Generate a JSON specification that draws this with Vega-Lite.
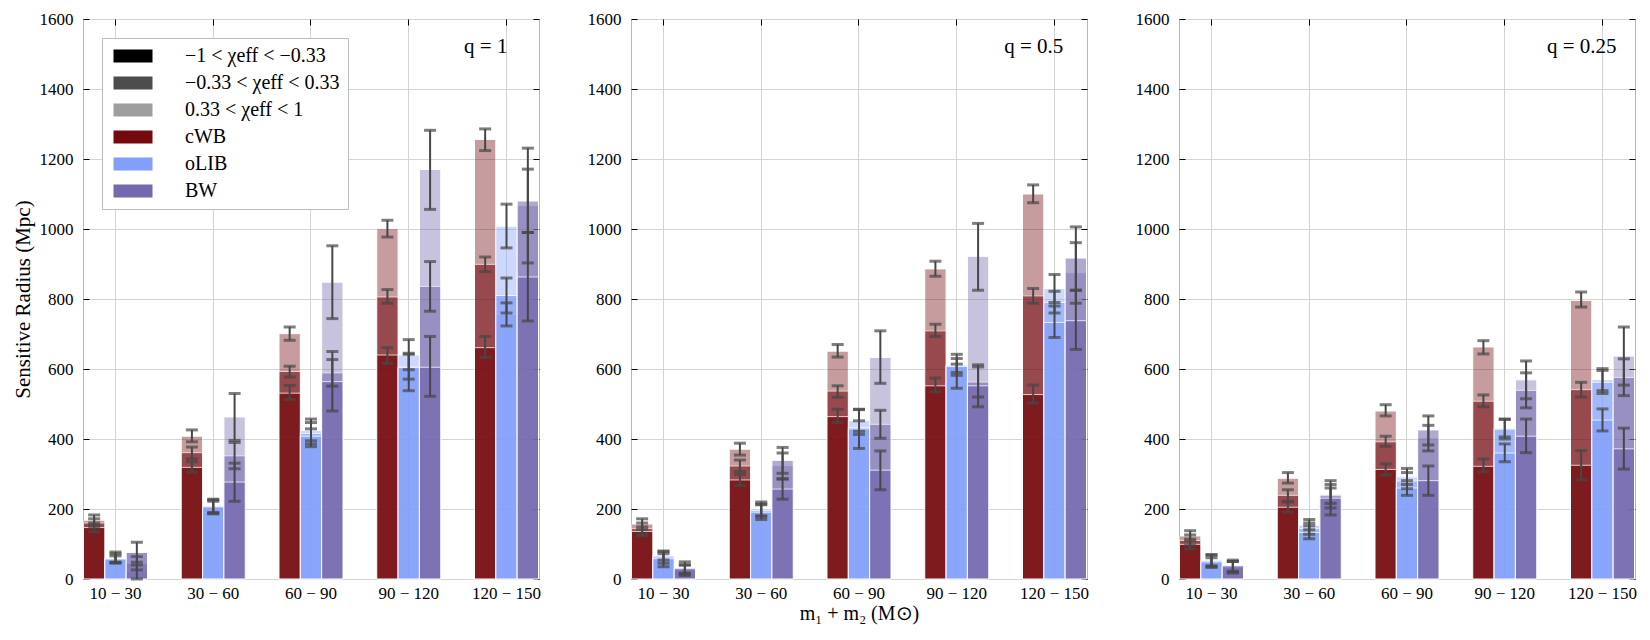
{
  "$schema": "https://vega.github.io/schema/vega-lite/v6.json",
  "background": "white",
  "padding": {"left": 11, "top": 9, "right": 8, "bottom": 5},
  "spacing": 92,
  "bounds": "flush",
  "datasets": {
    "q1": [
      {"mass": "10 − 30", "det": "cWB", "spin": "hi", "v": 168, "lo": 155, "hi": 183},
      {"mass": "10 − 30", "det": "cWB", "spin": "mid", "v": 160, "lo": 148, "hi": 172},
      {"mass": "10 − 30", "det": "cWB", "spin": "lo", "v": 147, "lo": 135, "hi": 160},
      {"mass": "10 − 30", "det": "oLIB", "spin": "hi", "v": 60, "lo": 46, "hi": 77},
      {"mass": "10 − 30", "det": "oLIB", "spin": "mid", "v": 58, "lo": 46, "hi": 72},
      {"mass": "10 − 30", "det": "oLIB", "spin": "lo", "v": 57, "lo": 48, "hi": 66},
      {"mass": "10 − 30", "det": "BW", "spin": "hi", "v": 20, "lo": 0, "hi": 40},
      {"mass": "10 − 30", "det": "BW", "spin": "mid", "v": 45, "lo": 26, "hi": 64},
      {"mass": "10 − 30", "det": "BW", "spin": "lo", "v": 76, "lo": 48, "hi": 105},
      {"mass": "30 − 60", "det": "cWB", "spin": "hi", "v": 408, "lo": 392, "hi": 426},
      {"mass": "30 − 60", "det": "cWB", "spin": "mid", "v": 361, "lo": 343, "hi": 377},
      {"mass": "30 − 60", "det": "cWB", "spin": "lo", "v": 319, "lo": 305, "hi": 335},
      {"mass": "30 − 60", "det": "oLIB", "spin": "hi", "v": 210, "lo": 190, "hi": 228},
      {"mass": "30 − 60", "det": "oLIB", "spin": "mid", "v": 208, "lo": 188, "hi": 226},
      {"mass": "30 − 60", "det": "oLIB", "spin": "lo", "v": 206, "lo": 186, "hi": 222},
      {"mass": "30 − 60", "det": "BW", "spin": "hi", "v": 463, "lo": 396, "hi": 530},
      {"mass": "30 − 60", "det": "BW", "spin": "mid", "v": 352, "lo": 315, "hi": 390},
      {"mass": "30 − 60", "det": "BW", "spin": "lo", "v": 277, "lo": 222, "hi": 331},
      {"mass": "60 − 90", "det": "cWB", "spin": "hi", "v": 701, "lo": 682, "hi": 720},
      {"mass": "60 − 90", "det": "cWB", "spin": "mid", "v": 593, "lo": 577, "hi": 608},
      {"mass": "60 − 90", "det": "cWB", "spin": "lo", "v": 531, "lo": 513, "hi": 553},
      {"mass": "60 − 90", "det": "oLIB", "spin": "hi", "v": 424, "lo": 395, "hi": 457},
      {"mass": "60 − 90", "det": "oLIB", "spin": "mid", "v": 416, "lo": 386, "hi": 447},
      {"mass": "60 − 90", "det": "oLIB", "spin": "lo", "v": 408, "lo": 378, "hi": 429},
      {"mass": "60 − 90", "det": "BW", "spin": "hi", "v": 848, "lo": 744, "hi": 952},
      {"mass": "60 − 90", "det": "BW", "spin": "mid", "v": 589, "lo": 551, "hi": 627},
      {"mass": "60 − 90", "det": "BW", "spin": "lo", "v": 564, "lo": 480, "hi": 650},
      {"mass": "90 − 120", "det": "cWB", "spin": "hi", "v": 1001, "lo": 977, "hi": 1025},
      {"mass": "90 − 120", "det": "cWB", "spin": "mid", "v": 806, "lo": 788, "hi": 827},
      {"mass": "90 − 120", "det": "cWB", "spin": "lo", "v": 640, "lo": 616, "hi": 661},
      {"mass": "90 − 120", "det": "oLIB", "spin": "hi", "v": 640, "lo": 598, "hi": 684},
      {"mass": "90 − 120", "det": "oLIB", "spin": "mid", "v": 606, "lo": 571, "hi": 642},
      {"mass": "90 − 120", "det": "oLIB", "spin": "lo", "v": 604, "lo": 538, "hi": 645},
      {"mass": "90 − 120", "det": "BW", "spin": "hi", "v": 1170, "lo": 1056, "hi": 1282},
      {"mass": "90 − 120", "det": "BW", "spin": "mid", "v": 836, "lo": 765, "hi": 907},
      {"mass": "90 − 120", "det": "BW", "spin": "lo", "v": 605, "lo": 522, "hi": 693},
      {"mass": "120 − 150", "det": "cWB", "spin": "hi", "v": 1256, "lo": 1224, "hi": 1286},
      {"mass": "120 − 150", "det": "cWB", "spin": "mid", "v": 899, "lo": 878, "hi": 920},
      {"mass": "120 − 150", "det": "cWB", "spin": "lo", "v": 661, "lo": 633, "hi": 693},
      {"mass": "120 − 150", "det": "oLIB", "spin": "hi", "v": 1008, "lo": 946, "hi": 1071},
      {"mass": "120 − 150", "det": "oLIB", "spin": "mid", "v": 756, "lo": 723, "hi": 789},
      {"mass": "120 − 150", "det": "oLIB", "spin": "lo", "v": 810, "lo": 760, "hi": 860},
      {"mass": "120 − 150", "det": "BW", "spin": "hi", "v": 1067, "lo": 903, "hi": 1231},
      {"mass": "120 − 150", "det": "BW", "spin": "mid", "v": 1080, "lo": 990, "hi": 1171},
      {"mass": "120 − 150", "det": "BW", "spin": "lo", "v": 863, "lo": 737, "hi": 990}
    ],
    "q05": [
      {"mass": "10 − 30", "det": "cWB", "spin": "hi", "v": 157, "lo": 142, "hi": 172},
      {"mass": "10 − 30", "det": "cWB", "spin": "mid", "v": 144, "lo": 128, "hi": 160},
      {"mass": "10 − 30", "det": "cWB", "spin": "lo", "v": 136, "lo": 123, "hi": 149},
      {"mass": "10 − 30", "det": "oLIB", "spin": "hi", "v": 67, "lo": 54, "hi": 80},
      {"mass": "10 − 30", "det": "oLIB", "spin": "mid", "v": 63, "lo": 45, "hi": 78},
      {"mass": "10 − 30", "det": "oLIB", "spin": "lo", "v": 58, "lo": 35, "hi": 72},
      {"mass": "10 − 30", "det": "BW", "spin": "hi", "v": 25, "lo": 10, "hi": 40},
      {"mass": "10 − 30", "det": "BW", "spin": "mid", "v": 28, "lo": 17, "hi": 40},
      {"mass": "10 − 30", "det": "BW", "spin": "lo", "v": 31, "lo": 14, "hi": 49},
      {"mass": "30 − 60", "det": "cWB", "spin": "hi", "v": 371, "lo": 354, "hi": 388},
      {"mass": "30 − 60", "det": "cWB", "spin": "mid", "v": 323, "lo": 307, "hi": 340},
      {"mass": "30 − 60", "det": "cWB", "spin": "lo", "v": 283, "lo": 267, "hi": 299},
      {"mass": "30 − 60", "det": "oLIB", "spin": "hi", "v": 200, "lo": 181, "hi": 220},
      {"mass": "30 − 60", "det": "oLIB", "spin": "mid", "v": 196, "lo": 178, "hi": 214},
      {"mass": "30 − 60", "det": "oLIB", "spin": "lo", "v": 191, "lo": 170, "hi": 212},
      {"mass": "30 − 60", "det": "BW", "spin": "hi", "v": 324, "lo": 286, "hi": 360},
      {"mass": "30 − 60", "det": "BW", "spin": "mid", "v": 339, "lo": 302, "hi": 376},
      {"mass": "30 − 60", "det": "BW", "spin": "lo", "v": 257, "lo": 228, "hi": 286},
      {"mass": "60 − 90", "det": "cWB", "spin": "hi", "v": 651, "lo": 634, "hi": 670},
      {"mass": "60 − 90", "det": "cWB", "spin": "mid", "v": 537, "lo": 519, "hi": 552},
      {"mass": "60 − 90", "det": "cWB", "spin": "lo", "v": 464, "lo": 447, "hi": 485},
      {"mass": "60 − 90", "det": "oLIB", "spin": "hi", "v": 453, "lo": 422, "hi": 484},
      {"mass": "60 − 90", "det": "oLIB", "spin": "mid", "v": 433, "lo": 413, "hi": 452},
      {"mass": "60 − 90", "det": "oLIB", "spin": "lo", "v": 429, "lo": 373, "hi": 485},
      {"mass": "60 − 90", "det": "BW", "spin": "hi", "v": 633, "lo": 559, "hi": 709},
      {"mass": "60 − 90", "det": "BW", "spin": "mid", "v": 442, "lo": 402, "hi": 482},
      {"mass": "60 − 90", "det": "BW", "spin": "lo", "v": 311, "lo": 255, "hi": 366},
      {"mass": "90 − 120", "det": "cWB", "spin": "hi", "v": 886, "lo": 865, "hi": 908},
      {"mass": "90 − 120", "det": "cWB", "spin": "mid", "v": 709, "lo": 693, "hi": 728},
      {"mass": "90 − 120", "det": "cWB", "spin": "lo", "v": 552, "lo": 535, "hi": 574},
      {"mass": "90 − 120", "det": "oLIB", "spin": "hi", "v": 612, "lo": 582, "hi": 642},
      {"mass": "90 − 120", "det": "oLIB", "spin": "mid", "v": 610, "lo": 590, "hi": 630},
      {"mass": "90 − 120", "det": "oLIB", "spin": "lo", "v": 607, "lo": 545, "hi": 614},
      {"mass": "90 − 120", "det": "BW", "spin": "hi", "v": 922, "lo": 825, "hi": 1016},
      {"mass": "90 − 120", "det": "BW", "spin": "mid", "v": 563, "lo": 520, "hi": 606},
      {"mass": "90 − 120", "det": "BW", "spin": "lo", "v": 552, "lo": 492, "hi": 612},
      {"mass": "120 − 150", "det": "cWB", "spin": "hi", "v": 1100, "lo": 1075, "hi": 1126},
      {"mass": "120 − 150", "det": "cWB", "spin": "mid", "v": 809, "lo": 788, "hi": 830},
      {"mass": "120 − 150", "det": "cWB", "spin": "lo", "v": 527, "lo": 503, "hi": 554},
      {"mass": "120 − 150", "det": "oLIB", "spin": "hi", "v": 830, "lo": 790, "hi": 870},
      {"mass": "120 − 150", "det": "oLIB", "spin": "mid", "v": 790, "lo": 760, "hi": 822},
      {"mass": "120 − 150", "det": "oLIB", "spin": "lo", "v": 733, "lo": 690, "hi": 780},
      {"mass": "120 − 150", "det": "BW", "spin": "hi", "v": 875, "lo": 788, "hi": 961},
      {"mass": "120 − 150", "det": "BW", "spin": "mid", "v": 917, "lo": 825, "hi": 1006},
      {"mass": "120 − 150", "det": "BW", "spin": "lo", "v": 738, "lo": 656, "hi": 825}
    ],
    "q025": [
      {"mass": "10 − 30", "det": "cWB", "spin": "hi", "v": 123, "lo": 109, "hi": 138},
      {"mass": "10 − 30", "det": "cWB", "spin": "mid", "v": 110, "lo": 97, "hi": 126},
      {"mass": "10 − 30", "det": "cWB", "spin": "lo", "v": 99, "lo": 86, "hi": 114},
      {"mass": "10 − 30", "det": "oLIB", "spin": "hi", "v": 54, "lo": 38, "hi": 70},
      {"mass": "10 − 30", "det": "oLIB", "spin": "mid", "v": 52, "lo": 36, "hi": 68},
      {"mass": "10 − 30", "det": "oLIB", "spin": "lo", "v": 49, "lo": 33, "hi": 61},
      {"mass": "10 − 30", "det": "BW", "spin": "hi", "v": 33, "lo": 17, "hi": 50},
      {"mass": "10 − 30", "det": "BW", "spin": "mid", "v": 35, "lo": 20, "hi": 50},
      {"mass": "10 − 30", "det": "BW", "spin": "lo", "v": 38, "lo": 22, "hi": 54},
      {"mass": "30 − 60", "det": "cWB", "spin": "hi", "v": 288, "lo": 274, "hi": 304},
      {"mass": "30 − 60", "det": "cWB", "spin": "mid", "v": 239, "lo": 222, "hi": 255},
      {"mass": "30 − 60", "det": "cWB", "spin": "lo", "v": 205, "lo": 191, "hi": 220},
      {"mass": "30 − 60", "det": "oLIB", "spin": "hi", "v": 154, "lo": 141, "hi": 170},
      {"mass": "30 − 60", "det": "oLIB", "spin": "mid", "v": 144, "lo": 128, "hi": 160},
      {"mass": "30 − 60", "det": "oLIB", "spin": "lo", "v": 133, "lo": 115, "hi": 152},
      {"mass": "30 − 60", "det": "BW", "spin": "hi", "v": 242, "lo": 203, "hi": 281},
      {"mass": "30 − 60", "det": "BW", "spin": "mid", "v": 238, "lo": 216, "hi": 260},
      {"mass": "30 − 60", "det": "BW", "spin": "lo", "v": 231, "lo": 183, "hi": 270},
      {"mass": "60 − 90", "det": "cWB", "spin": "hi", "v": 480, "lo": 466, "hi": 498},
      {"mass": "60 − 90", "det": "cWB", "spin": "mid", "v": 392, "lo": 379, "hi": 408},
      {"mass": "60 − 90", "det": "cWB", "spin": "lo", "v": 313, "lo": 297, "hi": 329},
      {"mass": "60 − 90", "det": "oLIB", "spin": "hi", "v": 292, "lo": 270, "hi": 316},
      {"mass": "60 − 90", "det": "oLIB", "spin": "mid", "v": 280, "lo": 258, "hi": 304},
      {"mass": "60 − 90", "det": "oLIB", "spin": "lo", "v": 260, "lo": 239, "hi": 281},
      {"mass": "60 − 90", "det": "BW", "spin": "hi", "v": 403, "lo": 366, "hi": 439},
      {"mass": "60 − 90", "det": "BW", "spin": "mid", "v": 426, "lo": 383, "hi": 466},
      {"mass": "60 − 90", "det": "BW", "spin": "lo", "v": 281, "lo": 239, "hi": 323},
      {"mass": "90 − 120", "det": "cWB", "spin": "hi", "v": 663, "lo": 643, "hi": 681},
      {"mass": "90 − 120", "det": "cWB", "spin": "mid", "v": 508, "lo": 492, "hi": 526},
      {"mass": "90 − 120", "det": "cWB", "spin": "lo", "v": 322, "lo": 306, "hi": 343},
      {"mass": "90 − 120", "det": "oLIB", "spin": "hi", "v": 431, "lo": 406, "hi": 457},
      {"mass": "90 − 120", "det": "oLIB", "spin": "mid", "v": 428, "lo": 400, "hi": 456},
      {"mass": "90 − 120", "det": "oLIB", "spin": "lo", "v": 360, "lo": 335, "hi": 386},
      {"mass": "90 − 120", "det": "BW", "spin": "hi", "v": 569, "lo": 515, "hi": 623},
      {"mass": "90 − 120", "det": "BW", "spin": "mid", "v": 539, "lo": 489, "hi": 589},
      {"mass": "90 − 120", "det": "BW", "spin": "lo", "v": 408, "lo": 361, "hi": 457},
      {"mass": "120 − 150", "det": "cWB", "spin": "hi", "v": 796, "lo": 777, "hi": 820},
      {"mass": "120 − 150", "det": "cWB", "spin": "mid", "v": 541, "lo": 520, "hi": 562},
      {"mass": "120 − 150", "det": "cWB", "spin": "lo", "v": 325, "lo": 283, "hi": 367},
      {"mass": "120 − 150", "det": "oLIB", "spin": "hi", "v": 570, "lo": 538, "hi": 601},
      {"mass": "120 − 150", "det": "oLIB", "spin": "mid", "v": 562, "lo": 530, "hi": 596},
      {"mass": "120 − 150", "det": "oLIB", "spin": "lo", "v": 454, "lo": 423, "hi": 486},
      {"mass": "120 − 150", "det": "BW", "spin": "hi", "v": 637, "lo": 554, "hi": 720},
      {"mass": "120 − 150", "det": "BW", "spin": "mid", "v": 576, "lo": 524, "hi": 629},
      {"mass": "120 − 150", "det": "BW", "spin": "lo", "v": 372, "lo": 314, "hi": 431}
    ]
  },
  "hconcat": [
    {
      "width": 456,
      "height": 560,
      "data": {"name": "q1"},
      "resolve": {"axis": {"x": "independent", "y": "independent"}},
      "layer": [
        {
          "mark": {"type": "bar", "stroke": "white", "strokeWidth": 1},
          "encoding": {
            "x": {"field": "mass", "type": "nominal", "sort": null,
              "scale": {"domain": ["10 − 30", "30 − 60", "60 − 90", "90 − 120", "120 − 150"], "paddingInner": 0.345, "paddingOuter": 0.005},
              "axis": {"title": null, "orient": "bottom", "ticks": false, "labelAngle": 0, "labelPadding": 6, "grid": true, "bandPosition": 0.5}},
            "xOffset": {"field": "det", "type": "nominal", "sort": null,
              "scale": {"domain": ["cWB", "oLIB", "BW"], "paddingInner": 0, "paddingOuter": 0}},
            "y": {"field": "v", "type": "quantitative", "stack": null,
              "scale": {"domain": [0, 1600], "nice": false},
              "axis": {"title": "Sensitive Radius (Mpc)", "titleFontSize": 21, "titlePadding": 6, "format": "d",
                "values": [0, 200, 400, 600, 800, 1000, 1200, 1400, 1600], "tickSize": -6, "labelPadding": 16, "grid": true}},
            "color": {"field": "det", "type": "nominal",
              "scale": {"domain": ["cWB", "oLIB", "BW"], "range": ["#740a0e", "#82a0fb", "#7468ae"]}, "legend": null},
            "opacity": {"field": "spin", "type": "ordinal",
              "scale": {"domain": ["hi", "mid", "lo"], "range": [0.4, 0.72, 1]}, "legend": null}
          }
        },
        {
          "mark": {"type": "rule", "color": "#474747", "strokeWidth": 2},
          "encoding": {
            "x": {"field": "mass", "type": "nominal", "sort": null,
              "axis": {"orient": "top", "labels": false, "tickSize": -6, "grid": false, "title": null, "bandPosition": 0.5}},
            "xOffset": {"field": "det", "type": "nominal", "sort": null},
            "y": {"field": "lo", "type": "quantitative",
              "axis": {"orient": "right", "labels": false, "tickSize": -6, "grid": false, "title": null,
                "values": [0, 200, 400, 600, 800, 1000, 1200, 1400, 1600]}},
            "y2": {"field": "hi"}
          }
        },
        {
          "mark": {"type": "tick", "color": "#474747", "thickness": 3, "size": 12},
          "encoding": {
            "x": {"field": "mass", "type": "nominal", "sort": null, "axis": null},
            "xOffset": {"field": "det", "type": "nominal", "sort": null},
            "y": {"field": "lo", "type": "quantitative", "axis": null}
          }
        },
        {
          "mark": {"type": "tick", "color": "#474747", "thickness": 3, "size": 12},
          "encoding": {
            "x": {"field": "mass", "type": "nominal", "sort": null, "axis": null},
            "xOffset": {"field": "det", "type": "nominal", "sort": null},
            "y": {"field": "hi", "type": "quantitative", "axis": null}
          }
        },
        {
          "data": {"values": [{"t": "q = 1"}]},
          "mark": {"type": "text", "fontSize": 21, "dx": 77, "baseline": "middle", "color": "black"},
          "encoding": {
            "x": {"datum": "90 − 120", "type": "nominal", "axis": null},
            "y": {"datum": 1520, "type": "quantitative", "axis": null},
            "text": {"field": "t"}
          }
        },
        {
          "transform": [{"filter": "false"}],
          "mark": {"type": "square"},
          "encoding": {
            "fill": {"field": "det", "type": "nominal",
              "scale": {"domain": ["−1 < χeff < −0.33", "−0.33 < χeff < 0.33", "0.33 < χeff < 1", "cWB", "oLIB", "BW"],
                "range": ["#000000", "#4d4d4d", "#9e9e9e", "#740a0e", "#82a0fb", "#7468ae"]},
              "legend": {"title": null, "orient": "top-left", "offset": 19, "padding": 8, "rowPadding": 7,
                "symbolType": "M-3,-1H3V1H-3Z", "symbolSize": 169, "symbolOffset": 13, "labelOffset": 42,
                "symbolStrokeWidth": 0, "symbolOpacity": 1,
                "labelFont": "Liberation Serif", "labelFontSize": 20, "labelColor": "black", "labelLimit": 400,
                "fillColor": "white", "strokeColor": "#bdbdbd", "cornerRadius": 0}}
          }
        }
      ]
    },
    {
      "width": 456,
      "height": 560,
      "data": {"name": "q05"},
      "resolve": {"axis": {"x": "independent", "y": "independent"}},
      "layer": [
        {
          "mark": {"type": "bar", "stroke": "white", "strokeWidth": 1},
          "encoding": {
            "x": {"field": "mass", "type": "nominal", "sort": null,
              "scale": {"domain": ["10 − 30", "30 − 60", "60 − 90", "90 − 120", "120 − 150"], "paddingInner": 0.345, "paddingOuter": 0.005},
              "axis": {"title": "m₁ + m₂ (M⊙)", "titleFontSize": 20, "titlePadding": 2, "orient": "bottom", "ticks": false, "labelAngle": 0, "labelPadding": 6, "grid": true, "bandPosition": 0.5}},
            "xOffset": {"field": "det", "type": "nominal", "sort": null,
              "scale": {"domain": ["cWB", "oLIB", "BW"], "paddingInner": 0, "paddingOuter": 0}},
            "y": {"field": "v", "type": "quantitative", "stack": null,
              "scale": {"domain": [0, 1600], "nice": false},
              "axis": {"title": null, "format": "d", "values": [0, 200, 400, 600, 800, 1000, 1200, 1400, 1600], "tickSize": -6, "labelPadding": 16, "grid": true}},
            "color": {"field": "det", "type": "nominal", "legend": null},
            "opacity": {"field": "spin", "type": "ordinal", "legend": null}
          }
        },
        {
          "mark": {"type": "rule", "color": "#474747", "strokeWidth": 2},
          "encoding": {
            "x": {"field": "mass", "type": "nominal", "sort": null,
              "axis": {"orient": "top", "labels": false, "tickSize": -6, "grid": false, "title": null, "bandPosition": 0.5}},
            "xOffset": {"field": "det", "type": "nominal", "sort": null},
            "y": {"field": "lo", "type": "quantitative",
              "axis": {"orient": "right", "labels": false, "tickSize": -6, "grid": false, "title": null,
                "values": [0, 200, 400, 600, 800, 1000, 1200, 1400, 1600]}},
            "y2": {"field": "hi"}
          }
        },
        {
          "mark": {"type": "tick", "color": "#474747", "thickness": 3, "size": 12},
          "encoding": {
            "x": {"field": "mass", "type": "nominal", "sort": null, "axis": null},
            "xOffset": {"field": "det", "type": "nominal", "sort": null},
            "y": {"field": "lo", "type": "quantitative", "axis": null}
          }
        },
        {
          "mark": {"type": "tick", "color": "#474747", "thickness": 3, "size": 12},
          "encoding": {
            "x": {"field": "mass", "type": "nominal", "sort": null, "axis": null},
            "xOffset": {"field": "det", "type": "nominal", "sort": null},
            "y": {"field": "hi", "type": "quantitative", "axis": null}
          }
        },
        {
          "data": {"values": [{"t": "q = 0.5"}]},
          "mark": {"type": "text", "fontSize": 21, "dx": 77, "baseline": "middle", "color": "black"},
          "encoding": {
            "x": {"datum": "90 − 120", "type": "nominal", "axis": null},
            "y": {"datum": 1520, "type": "quantitative", "axis": null},
            "text": {"field": "t"}
          }
        }
      ]
    },
    {
      "width": 456,
      "height": 560,
      "data": {"name": "q025"},
      "resolve": {"axis": {"x": "independent", "y": "independent"}},
      "layer": [
        {
          "mark": {"type": "bar", "stroke": "white", "strokeWidth": 1},
          "encoding": {
            "x": {"field": "mass", "type": "nominal", "sort": null,
              "scale": {"domain": ["10 − 30", "30 − 60", "60 − 90", "90 − 120", "120 − 150"], "paddingInner": 0.345, "paddingOuter": 0.005},
              "axis": {"title": null, "orient": "bottom", "ticks": false, "labelAngle": 0, "labelPadding": 6, "grid": true, "bandPosition": 0.5}},
            "xOffset": {"field": "det", "type": "nominal", "sort": null,
              "scale": {"domain": ["cWB", "oLIB", "BW"], "paddingInner": 0, "paddingOuter": 0}},
            "y": {"field": "v", "type": "quantitative", "stack": null,
              "scale": {"domain": [0, 1600], "nice": false},
              "axis": {"title": null, "format": "d", "values": [0, 200, 400, 600, 800, 1000, 1200, 1400, 1600], "tickSize": -6, "labelPadding": 16, "grid": true}},
            "color": {"field": "det", "type": "nominal", "legend": null},
            "opacity": {"field": "spin", "type": "ordinal", "legend": null}
          }
        },
        {
          "mark": {"type": "rule", "color": "#474747", "strokeWidth": 2},
          "encoding": {
            "x": {"field": "mass", "type": "nominal", "sort": null,
              "axis": {"orient": "top", "labels": false, "tickSize": -6, "grid": false, "title": null, "bandPosition": 0.5}},
            "xOffset": {"field": "det", "type": "nominal", "sort": null},
            "y": {"field": "lo", "type": "quantitative",
              "axis": {"orient": "right", "labels": false, "tickSize": -6, "grid": false, "title": null,
                "values": [0, 200, 400, 600, 800, 1000, 1200, 1400, 1600]}},
            "y2": {"field": "hi"}
          }
        },
        {
          "mark": {"type": "tick", "color": "#474747", "thickness": 3, "size": 12},
          "encoding": {
            "x": {"field": "mass", "type": "nominal", "sort": null, "axis": null},
            "xOffset": {"field": "det", "type": "nominal", "sort": null},
            "y": {"field": "lo", "type": "quantitative", "axis": null}
          }
        },
        {
          "mark": {"type": "tick", "color": "#474747", "thickness": 3, "size": 12},
          "encoding": {
            "x": {"field": "mass", "type": "nominal", "sort": null, "axis": null},
            "xOffset": {"field": "det", "type": "nominal", "sort": null},
            "y": {"field": "hi", "type": "quantitative", "axis": null}
          }
        },
        {
          "data": {"values": [{"t": "q = 0.25"}]},
          "mark": {"type": "text", "fontSize": 21, "dx": 77, "baseline": "middle", "color": "black"},
          "encoding": {
            "x": {"datum": "90 − 120", "type": "nominal", "axis": null},
            "y": {"datum": 1520, "type": "quantitative", "axis": null},
            "text": {"field": "t"}
          }
        }
      ]
    }
  ],
  "config": {
    "font": "Liberation Serif",
    "view": {"stroke": "#b8b8b8"},
    "axis": {
      "labelFont": "Liberation Serif", "titleFont": "Liberation Serif",
      "labelFontSize": 17, "labelColor": "black", "titleColor": "black", "titleFontWeight": "normal",
      "gridColor": "#d4d4d4", "domain": false, "tickColor": "black"
    },
    "text": {"font": "Liberation Serif"}
  }
}
